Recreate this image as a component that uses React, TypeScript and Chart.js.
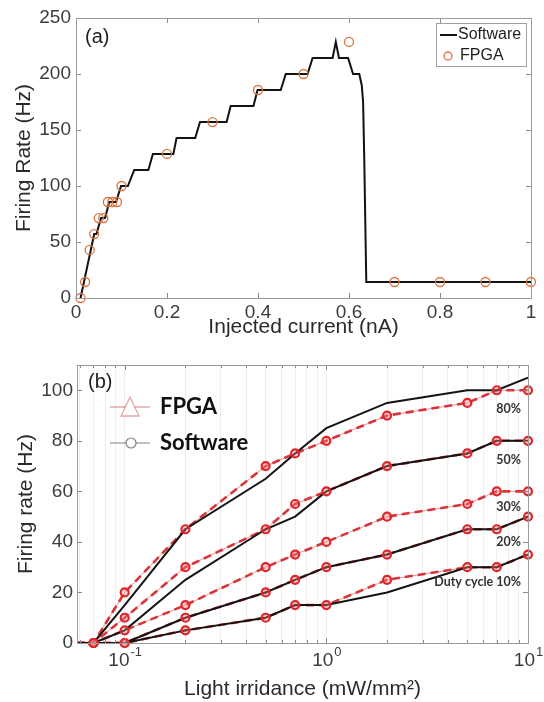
import React, { useEffect, useRef } from 'react';
import { Chart, registerables } from 'chart.js';
Chart.register(...registerables);

// ---------- Panel (a) data ----------
const swCurrent = [0.01, 0.04, 0.045, 0.055, 0.064, 0.073, 0.088, 0.099, 0.114, 0.128, 0.159, 0.169, 0.214, 0.221, 0.262, 0.2725, 0.331, 0.34, 0.39, 0.399, 0.45, 0.461, 0.509, 0.52, 0.564, 0.571, 0.578, 0.598, 0.609, 0.6226, 0.628, 0.631, 0.6336, 0.638, 1.0];
const swRate = [0, 57.1, 57.1, 71.4, 71.4, 85.7, 85.7, 100, 100, 114.3, 114.3, 128.6, 128.6, 142.9, 142.9, 157.1, 157.1, 171.4, 171.4, 185.7, 185.7, 200, 200, 214.3, 214.3, 228.6, 214.3, 214.3, 200, 200, 190, 175, 123, 14.3, 14.3];
const fpgaCurrent = [0.01, 0.02, 0.03, 0.04, 0.05, 0.06, 0.07, 0.08, 0.09, 0.1, 0.2, 0.3, 0.4, 0.5, 0.6, 0.7, 0.8, 0.9, 1.0];
const fpgaRate = [0, 14.3, 42.9, 57.1, 71.4, 71.4, 85.7, 85.7, 85.7, 100, 128.6, 157.1, 185.7, 200, 228.6, 14.3, 14.3, 14.3, 14.3];

// ---------- Panel (b) data ----------
const irradiance = [0.07, 0.1, 0.2, 0.5, 0.7, 1, 2, 5, 7, 10];
const lineStart = 0.058;
const dutyCycles = ['80%', '50%', '30%', '20%', '10%'];
const fpga80 = [0, 20, 45, 70, 75, 80, 90, 95, 100, 100];
const fpga50 = [0, 10, 30, 45, 55, 60, 70, 75, 80, 80];
const fpga30 = [0, 5, 15, 30, 35, 40, 50, 55, 60, 60];
const fpga20 = [0, 0, 10, 20, 25, 30, 35, 45, 45, 50];
const fpga10 = [0, 0, 5, 10, 15, 15, 25, 30, 30, 35];
const soft80 = [0, 15, 45, 65, 75, 85, 95, 100, 100, 105];
const soft50 = [0, 5, 25, 45, 50, 60, 70, 75, 80, 80];
const soft20 = [0, 0, 10, 20, 25, 30, 35, 45, 45, 50];
const soft10 = [0, 0, 5, 10, 15, 15, 20, 30, 30, 35];
const dutyLabels = ['80%', '50%', '30%', '20%', 'Duty cycle 10%'];
const xTicksB = [0.06, 0.07, 0.08, 0.09, 0.1, 0.2, 0.3, 0.4, 0.5, 0.6, 0.7, 0.8, 0.9, 1, 2, 3, 4, 5, 6, 7, 8, 9, 10];
const xMajorB = [0.1, 1, 10];
const xMajorExp = ['-1', '0', '1'];

// label anchor values (in data units) for the duty-cycle annotations
const dutyLabelY = [92.8, 72.4, 53.8, 40, 24.3];

const SANS = "'Liberation Sans', Arial, sans-serif";
const BOLD = "Lato, 'Open Sans', sans-serif";
const TICK_COLOR = '#3c3c3c';
const RED = '#e0262b';

function drawBoxTicks(ctx: any, chart: any, majorSet?: Set<number>) {
  const { left, right, top, bottom } = chart.chartArea;
  const xs = chart.scales.x, ys = chart.scales.y;
  ctx.save();
  ctx.lineWidth = 1;
  ctx.strokeStyle = '#8a8a8a';
  ctx.beginPath();
  for (const t of xs.ticks) {
    const px = Math.round(xs.getPixelForValue(t.value)) + 0.5;
    let len = 5;
    if (majorSet && !majorSet.has(t.value)) len = 3;
    ctx.moveTo(px, bottom); ctx.lineTo(px, bottom - len);
    ctx.moveTo(px, top); ctx.lineTo(px, top + len);
  }
  for (const t of ys.ticks) {
    const py = Math.round(ys.getPixelForValue(t.value)) + 0.5;
    ctx.moveTo(left, py); ctx.lineTo(left + 5, py);
    ctx.moveTo(right, py); ctx.lineTo(right - 5, py);
  }
  ctx.stroke();
  ctx.strokeStyle = '#9c9c9c';
  ctx.strokeRect(Math.round(left) + 0.5, Math.round(top) + 0.5, Math.round(right - left), Math.round(bottom - top));
  ctx.restore();
}

const panelAPlugin = {
  id: 'panelA',
  afterDraw(chart: any) {
    const { ctx } = chart;
    const { left, right, top } = chart.chartArea;
    drawBoxTicks(ctx, chart);
    ctx.save();
    ctx.fillStyle = '#1e1e1e';
    ctx.font = `20px ${SANS}`;
    ctx.textBaseline = 'middle';
    ctx.textAlign = 'left';
    ctx.fillText('(a)', left + 9, top + 19);
    // legend
    const bx = right - 95, by = top + 5, bw = 90, bh = 43;
    ctx.fillStyle = '#ffffff';
    ctx.fillRect(bx, by, bw, bh);
    ctx.strokeStyle = '#a0a0a0';
    ctx.lineWidth = 1;
    ctx.strokeRect(bx + 0.5, by + 0.5, bw, bh);
    ctx.strokeStyle = '#111';
    ctx.lineWidth = 2;
    ctx.beginPath();
    ctx.moveTo(bx + 4, by + 12); ctx.lineTo(bx + 21, by + 12);
    ctx.stroke();
    ctx.strokeStyle = '#d9733f';
    ctx.lineWidth = 1.3;
    ctx.beginPath();
    ctx.arc(bx + 12, by + 33, 4, 0, Math.PI * 2);
    ctx.stroke();
    ctx.fillStyle = '#1e1e1e';
    ctx.font = `16px ${SANS}`;
    ctx.fillText('Software', bx + 22, by + 12);
    ctx.fillText('FPGA', bx + 24, by + 33);
    ctx.restore();
  },
};

const panelBPlugin = {
  id: 'panelB',
  afterDraw(chart: any) {
    const { ctx } = chart;
    const { left, right, top, bottom } = chart.chartArea;
    const xs = chart.scales.x, ys = chart.scales.y;
    drawBoxTicks(ctx, chart, new Set(xMajorB));
    ctx.save();
    // x tick labels 10^n
    ctx.fillStyle = TICK_COLOR;
    ctx.textBaseline = 'middle';
    ctx.textAlign = 'left';
    xMajorB.forEach((v, i) => {
      const px = xs.getPixelForValue(v);
      ctx.font = `19px ${SANS}`;
      const w1 = ctx.measureText('10').width;
      ctx.font = `13px ${SANS}`;
      const w2 = ctx.measureText(xMajorExp[i]).width;
      const x0 = px - (w1 + w2) / 2;
      ctx.font = `19px ${SANS}`;
      ctx.fillText('10', x0, bottom + 18);
      ctx.font = `13px ${SANS}`;
      ctx.fillText(xMajorExp[i], x0 + w1 + 1, bottom + 9);
    });
    ctx.fillStyle = '#1e1e1e';
    ctx.font = `20px ${SANS}`;
    ctx.fillText('(b)', left + 11, top + 17);
    // legend
    const lx = left + 33;
    ctx.strokeStyle = 'rgba(215,105,105,0.6)';
    ctx.lineWidth = 1.3;
    ctx.beginPath();
    ctx.moveTo(lx, top + 42); ctx.lineTo(lx + 40, top + 42);
    ctx.stroke();
    ctx.beginPath();
    ctx.moveTo(lx + 20, top + 32);
    ctx.lineTo(lx + 29, top + 51);
    ctx.lineTo(lx + 11, top + 51);
    ctx.closePath();
    ctx.fillStyle = '#ffffff';
    ctx.fill();
    ctx.stroke();
    ctx.strokeStyle = 'rgba(90,90,90,0.75)';
    ctx.lineWidth = 1.2;
    ctx.beginPath();
    ctx.moveTo(lx, top + 78); ctx.lineTo(lx + 40, top + 78);
    ctx.stroke();
    ctx.beginPath();
    ctx.arc(lx + 21, top + 78, 5, 0, Math.PI * 2);
    ctx.fill();
    ctx.stroke();
    ctx.fillStyle = '#111';
    ctx.font = `bold 22px ${BOLD}`;
    ctx.fillText('FPGA', lx + 50, top + 42);
    ctx.fillText('Software', lx + 50, top + 78);
    // duty cycle labels
    ctx.font = `bold 12.5px ${BOLD}`;
    ctx.textAlign = 'right';
    ctx.fillStyle = '#333';
    dutyLabels.forEach((t, i) => {
      ctx.fillText(t, right - 7, ys.getPixelForValue(dutyLabelY[i]));
    });
    ctx.restore();
  },
};

function pts(xs: number[], ys: number[]) {
  return xs.map((x, i) => ({ x, y: ys[i] }));
}

function lineWithStart(vals: number[]) {
  return [{ x: lineStart, y: 0 }, ...pts(irradiance, vals)];
}

function makeConfigA(): any {
  return {
    type: 'scatter',
    data: {
      datasets: [
        {
          label: 'Software',
          data: pts(swCurrent, swRate),
          showLine: true,
          borderColor: '#121212',
          borderWidth: 2,
          pointRadius: 0,
          order: 2,
        },
        {
          label: 'FPGA',
          data: pts(fpgaCurrent, fpgaRate),
          showLine: false,
          pointRadius: 4.5,
          pointBorderColor: '#d9733f',
          pointBackgroundColor: 'rgba(0,0,0,0)',
          pointBorderWidth: 1.3,
          clip: false,
          order: 1,
        },
      ],
    },
    options: {
      animation: false,
      responsive: false,
      devicePixelRatio: 1,
      layout: { padding: { left: 0, right: 13, top: 18, bottom: 0 } },
      plugins: { legend: { display: false }, tooltip: { enabled: false } },
      scales: {
        x: {
          type: 'linear',
          min: 0,
          max: 1,
          ticks: {
            stepSize: 0.2,
            font: { family: SANS, size: 19 },
            color: TICK_COLOR,
            padding: -5,
            maxRotation: 0,
            callback: (v: any) => String(Number(Number(v).toFixed(1))),
          },
          grid: { display: false },
          border: { display: false },
          title: { display: true, text: 'Injected current (nA)', font: { family: SANS, size: 21 }, color: '#2a2a2a', padding: { top: 0, bottom: 0 } },
          afterFit: (s: any) => { s.height = 42; },
        },
        y: {
          type: 'linear',
          min: 0,
          max: 250,
          ticks: { stepSize: 50, font: { family: SANS, size: 19 }, color: TICK_COLOR, padding: -3 },
          grid: { display: false },
          border: { display: false },
          title: { display: true, text: 'Firing Rate (Hz)', font: { family: SANS, size: 21 }, color: '#2a2a2a', padding: { top: 12, bottom: 0 } },
          afterFit: (s: any) => { s.width = 76; },
        },
      },
    },
    plugins: [panelAPlugin],
  };
}

function makeConfigB(): any {
  const fpgaSets = [fpga80, fpga50, fpga30, fpga20, fpga10];
  const softSets = [soft80, soft50, soft20, soft10];
  const datasets: any[] = [];
  fpgaSets.forEach((vals, i) => {
    datasets.push({
      label: `FPGA thin ${dutyCycles[i]}`,
      data: lineWithStart(vals),
      showLine: true,
      borderColor: 'rgba(230,110,110,0.75)',
      borderWidth: 1,
      pointRadius: 0,
      order: 4,
    });
    datasets.push({
      label: `FPGA ${dutyCycles[i]}`,
      data: lineWithStart(vals),
      showLine: true,
      borderColor: '#d8353a',
      borderWidth: 2.6,
      borderDash: [8, 5],
      pointRadius: 0,
      order: 3,
    });
  });
  softSets.forEach((vals, i) => {
    datasets.push({
      label: `Software ${i}`,
      data: lineWithStart(vals),
      showLine: true,
      borderColor: '#141414',
      borderWidth: 2,
      pointRadius: 0,
      order: 2,
    });
  });
  fpgaSets.forEach((vals, i) => {
    datasets.push({
      label: `FPGA markers ${dutyCycles[i]}`,
      data: pts(irradiance, vals),
      showLine: false,
      pointRadius: 4,
      pointBorderColor: RED,
      pointBackgroundColor: 'rgba(255,140,140,0.35)',
      pointBorderWidth: 2.2,
      clip: false,
      order: 1,
    });
  });
  return {
    type: 'scatter',
    data: { datasets },
    options: {
      animation: false,
      responsive: false,
      devicePixelRatio: 1,
      layout: { padding: { left: 0, right: 16, top: 25, bottom: 0 } },
      plugins: { legend: { display: false }, tooltip: { enabled: false } },
      scales: {
        x: {
          type: 'logarithmic',
          min: lineStart,
          max: 10,
          afterBuildTicks: (s: any) => { s.ticks = xTicksB.map((v) => ({ value: v, major: xMajorB.includes(v) })); },
          ticks: { display: false },
          grid: { display: true, drawOnChartArea: true, drawTicks: false, color: '#eeeeee', lineWidth: 1 },
          border: { display: false },
          title: { display: true, text: 'Light irridance (mW/mm²)', font: { family: SANS, size: 21 }, color: '#2a2a2a', padding: { top: 0, bottom: 0 } },
          afterFit: (s: any) => { s.height = 59; },
        },
        y: {
          type: 'linear',
          min: 0,
          max: 110,
          afterBuildTicks: (s: any) => { s.ticks = s.ticks.filter((t: any) => t.value % 20 === 0); },
          ticks: { stepSize: 20, font: { family: SANS, size: 19 }, color: TICK_COLOR, padding: -4 },
          grid: { display: false },
          border: { display: false },
          title: { display: true, text: 'Firing rate (Hz)', font: { family: SANS, size: 21 }, color: '#2a2a2a', padding: { top: 14, bottom: 0 } },
          afterFit: (s: any) => { s.width = 77; },
        },
      },
    },
    plugins: [panelBPlugin],
  };
}

export default function App() {
  const refA = useRef<HTMLCanvasElement>(null);
  const refB = useRef<HTMLCanvasElement>(null);
  useEffect(() => {
    const a = new Chart(refA.current as HTMLCanvasElement, makeConfigA());
    const b = new Chart(refB.current as HTMLCanvasElement, makeConfigB());
    return () => { a.destroy(); b.destroy(); };
  }, []);
  return (
    <div style={{ position: 'absolute', left: 0, top: 0, width: 544, height: 702, background: '#ffffff' }}>
      <canvas ref={refA} width={544} height={340} style={{ position: 'absolute', left: 0, top: 0, width: 544, height: 340 }} />
      <canvas ref={refB} width={544} height={362} style={{ position: 'absolute', left: 0, top: 340, width: 544, height: 362 }} />
    </div>
  );
}
